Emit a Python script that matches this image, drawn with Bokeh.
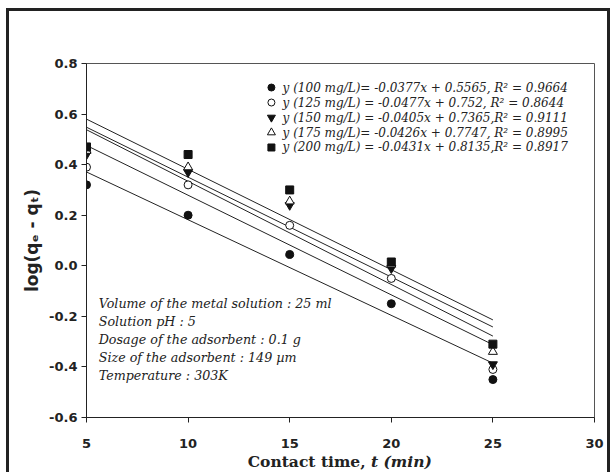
import numpy as np
from bokeh.plotting import figure
from bokeh.layouts import column
from bokeh.models import Range1d, FixedTicker, NumeralTickFormatter
from bokeh.core.properties import value
from bokeh.embed import file_html
from bokeh.resources import INLINE

# ---- data ----
time_min = [5, 10, 15, 20, 25]
log_100 = [0.32, 0.20, 0.045, -0.15, -0.45]
log_125 = [0.39, 0.32, 0.16, -0.05, -0.41]
log_150 = [0.44, 0.37, 0.24, -0.01, -0.39]
log_175 = [0.455, 0.39, 0.255, 0.005, -0.34]
log_200 = [0.47, 0.44, 0.30, 0.015, -0.31]

legend_labels = [
    "y (100 mg/L)= -0.0377x + 0.5565, R² = 0.9664",
    "y (125 mg/L) = -0.0477x + 0.752,  R² = 0.8644",
    "y (150 mg/L) = -0.0405x + 0.7365,R² = 0.9111",
    "y (175 mg/L)= -0.0426x + 0.7747, R² = 0.8995",
    "y (200 mg/L) = -0.0431x + 0.8135,R² = 0.8917",
]
notes = [
    "Volume of the metal solution : 25 ml",
    "Solution pH : 5",
    "Dosage of the adsorbent : 0.1 g",
    "Size of the adsorbent : 149 µm",
    "Temperature : 303K",
]
x_title = ["Contact time, ", "t (min)"]
y_title = "log(qₑ - qₜ)"
x_ticks = [5, 10, 15, 20, 25, 30]
y_ticks = [-0.6, -0.4, -0.2, 0.0, 0.2, 0.4, 0.6, 0.8]

series = [log_100, log_125, log_150, log_175, log_200]
markers = ["circle", "circle", "inverted_triangle", "triangle", "square"]
fills = ["#111111", "white", "#111111", "white", "#111111"]
sizes = [8, 8, 9, 9, 8]

# outer page frame (left, top and right rules) painted behind transparent canvases
top_css = {
    "background-image": ("linear-gradient(#222,#222), linear-gradient(#222,#222), "
                         "linear-gradient(#222,#222)"),
    "background-size": "3px 100%, 604px 3px, 3px 100%",
    "background-position": "6px 8px, 6px 8px, 607px 8px",
    "background-repeat": "no-repeat",
}
side_css = {
    "background-image": "linear-gradient(#222,#222), linear-gradient(#222,#222)",
    "background-size": "3px 100%, 3px 100%",
    "background-position": "6px 0px, 607px 0px",
    "background-repeat": "no-repeat",
}

p = figure(width=616, height=453, output_backend="svg", toolbar_location=None,
           x_range=Range1d(5, 30), y_range=Range1d(-0.6, 0.8),
           min_border_left=86, min_border_right=22, min_border_top=63,
           min_border_bottom=36, styles=top_css)
p.background_fill_color = "white"
p.border_fill_color = None
p.outline_line_color = "#555555"
p.xgrid.visible = False
p.ygrid.visible = False

for ax in (p.xaxis[0], p.yaxis[0]):
    ax.major_tick_in = 0
    ax.major_tick_out = 5
    ax.minor_tick_line_color = None
    ax.major_label_text_font = "DejaVu Sans"
    ax.major_label_text_font_style = "bold"
    ax.major_label_text_font_size = "13px"
    ax.major_label_text_color = "#222222"
    ax.axis_line_color = "#222222"
    ax.major_tick_line_color = "#222222"

p.xaxis.ticker = FixedTicker(ticks=x_ticks)
p.yaxis.ticker = FixedTicker(ticks=y_ticks)
p.yaxis.formatter = NumeralTickFormatter(format="0.0")
p.xaxis.major_label_standoff = 16
p.yaxis.major_label_standoff = 4
p.yaxis.axis_label = y_title
p.yaxis.axis_label_text_font = "DejaVu Sans"
p.yaxis.axis_label_text_font_style = "bold"
p.yaxis.axis_label_text_font_size = "17px"
p.yaxis.axis_label_text_color = "#222222"
p.yaxis.axis_label_standoff = 4

# trend lines (least-squares fits of each series, drawn over the data span)
for ys in series:
    slope, icpt = np.polyfit(time_min, ys, 1)
    xs = [time_min[0], time_min[-1]]
    p.line(xs, [slope * x + icpt for x in xs], line_color="#222222", line_width=1)

for ys, m, f, s in zip(series, markers, fills, sizes):
    p.scatter(time_min, ys, marker=m, size=s, fill_color=f,
              line_color="#111111", line_width=1)

# legend block (equations)
leg_y0 = 0.705
leg_dy = 0.0593
for i, (lab, m, f, s) in enumerate(zip(legend_labels, markers, fills, sizes)):
    yy = leg_y0 - i * leg_dy
    p.scatter([14.1], [yy], marker=m, size=s - 1, fill_color=f,
              line_color="#111111", line_width=1)
    p.text([14.65], [yy], text=[lab], text_font=value("DejaVu Serif"),
           text_font_style="italic", text_font_size="12px",
           text_baseline="middle", text_align="left", text_color="#222222")

# experimental conditions
for i, n in enumerate(notes):
    p.text([5.6], [-0.149 - i * 0.0711], text=[n], text_font=value("DejaVu Serif"),
           text_font_style="italic", text_font_size="12.7px",
           text_baseline="middle", text_align="left", text_color="#222222")

# x-axis title strip (mixed upright / italic), sharing the x scale
p2 = figure(width=616, height=19, output_backend="svg", toolbar_location=None,
            x_range=p.x_range, y_range=Range1d(0, 1),
            min_border_left=86, min_border_right=22, min_border_top=0,
            min_border_bottom=0, x_axis_location=None, y_axis_location=None,
            styles=side_css)
p2.background_fill_color = None
p2.border_fill_color = None
p2.outline_line_color = None
p2.xgrid.visible = False
p2.ygrid.visible = False
split_x = 19.0
p2.text([split_x], [0.58], text=[x_title[0]], text_font=value("DejaVu Serif"),
        text_font_style="bold", text_font_size="15.5px", text_align="right",
        text_baseline="middle", text_color="#222222")
p2.text([split_x], [0.58], text=[x_title[1]], text_font=value("DejaVu Serif"),
        text_font_style="bold italic", text_font_size="15.5px", text_align="left",
        text_baseline="middle", text_color="#222222")

layout = column(p, p2, spacing=0)
open("out.html", "w").write(file_html(layout, INLINE))
